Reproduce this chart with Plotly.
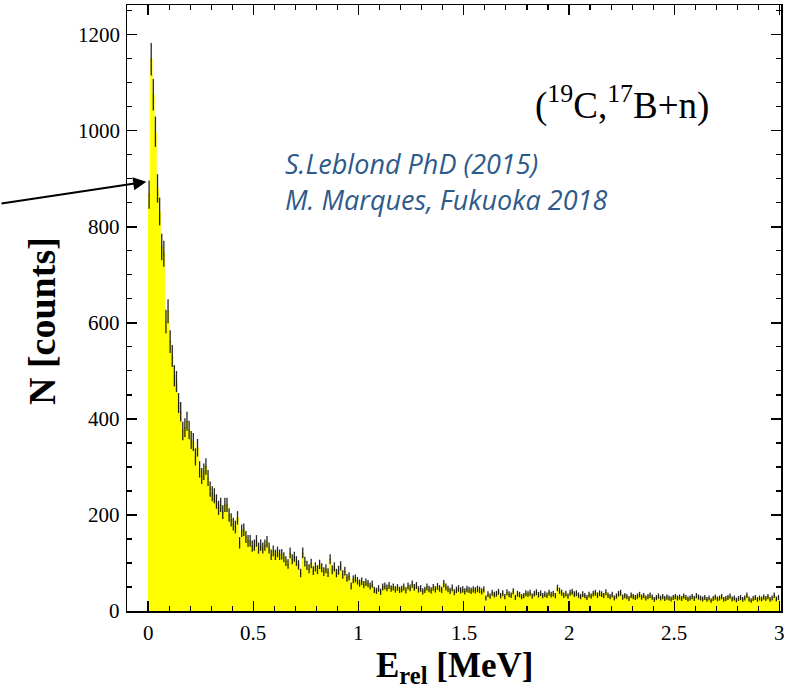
import numpy as np
import plotly.graph_objects as go

# Histogram of E_rel (MeV), 0.01 MeV bins from 0 to 3
bin_width = 0.01
bin_start = 0.0
counts = [
    867, 1149, 1075, 998, 880, 832, 758, 744, 603, 624,
    561, 531, 490, 478, 433, 415, 375, 382, 395, 377,
    356, 352, 321, 340, 295, 281, 290, 301, 277, 254,
    244, 240, 228, 215, 221, 206, 221, 221, 200, 190,
    181, 175, 194, 142, 167, 169, 154, 146, 146, 135,
    137, 146, 131, 137, 131, 137, 144, 131, 117, 125,
    117, 123, 117, 118, 112, 104, 98, 121, 108, 113,
    104, 96, 79, 121, 103, 95, 88, 99, 84, 92,
    86, 97, 90, 82, 88, 80, 108, 86, 92, 79,
    85, 94, 76, 83, 69, 72, 52, 66, 68, 63,
    58, 62, 55, 60, 57, 52, 56, 44, 42, 47,
    40, 50, 52, 48, 53, 47, 50, 45, 49, 44,
    46, 50, 43, 52, 48, 56, 49, 53, 45, 47,
    41, 44, 50, 46, 43, 49, 45, 51, 47, 44,
    57, 50, 46, 42, 48, 39, 44, 47, 43, 45,
    41, 46, 44, 42, 45, 43, 46, 44, 41, 45,
    27, 35, 31, 38, 34, 36, 40, 32, 37, 30,
    39, 35, 33, 41, 28, 36, 34, 30, 32, 37,
    35, 38, 31, 36, 39, 34, 37, 32, 35, 33,
    38, 34, 36, 32, 48, 42, 38, 33, 36, 31,
    38, 40, 35, 37, 33, 30, 35, 32, 28, 34,
    31, 36, 38, 33, 37, 35, 32, 39, 33, 30,
    34, 27, 31, 36, 38, 29, 32, 30, 26, 33,
    30, 28, 31, 34, 29, 32, 27, 30, 33, 29,
    24, 28, 31, 27, 30, 26, 29, 27, 25, 28,
    30, 27, 29, 26, 31, 28, 25, 27, 30, 26,
    32, 29, 27, 25, 28, 24, 27, 22, 26, 29,
    25, 27, 30, 24, 26, 28, 31, 25, 27, 23,
    26, 28, 24, 27, 33, 25, 22, 26, 28, 24,
    27, 25, 29, 26, 30, 24, 27, 33, 25, 28,
]

x_tick_vals = [0, 0.5, 1, 1.5, 2, 2.5, 3]
x_tick_text = ["0", "0.5", "1", "1.5", "2", "2.5", "3"]
y_tick_vals = [0, 200, 400, 600, 800, 1000, 1200]
y_tick_text = ["0", "200", "400", "600", "800", "1000", "1200"]
x_minor_step = 0.1
y_minor_step = 50

counts = np.array(counts, dtype=float)
n = len(counts)
edges = bin_start + bin_width * np.arange(n + 1)
centers = edges[:-1] + bin_width / 2
errors = np.sqrt(counts)  # Poisson errors

step_x = list(edges)
step_y = list(counts) + [counts[-1]]

fig = go.Figure()
fig.add_trace(go.Scatter(
    x=step_x, y=step_y, mode="lines", line=dict(shape="hv", color="#FFFF00", width=0.5),
    fill="tozeroy", fillcolor="#FFFF00", hoverinfo="skip", showlegend=False,
))
fig.add_trace(go.Scatter(
    x=centers, y=counts, mode="markers",
    marker=dict(size=1, color="rgba(0,0,0,0.6)"),
    error_y=dict(type="data", array=errors, visible=True, color="rgba(0,0,0,0.85)",
                 thickness=1.3, width=0),
    showlegend=False,
))

serif = "Liberation Serif"

fig.update_layout(
    width=789, height=691,
    margin=dict(l=127, r=8, t=5, b=80),
    paper_bgcolor="white", plot_bgcolor="white",
    showlegend=False,
    font=dict(family=serif, size=20, color="black"),
    xaxis=dict(
        range=[-0.1, 3.007], tickvals=x_tick_vals, showticklabels=False,
        ticks="inside", ticklen=10, tickwidth=1.3, tickcolor="black",
        minor=dict(ticks="inside", ticklen=5, dtick=x_minor_step, tickwidth=1.2, tickcolor="black"),
        showline=True, linecolor="black", linewidth=1.5, mirror="ticks",
        showgrid=False, zeroline=False, automargin=False,
    ),
    yaxis=dict(
        range=[0, 1262], tickvals=y_tick_vals, showticklabels=False,
        ticks="inside", ticklen=10, tickwidth=1.3, tickcolor="black",
        minor=dict(ticks="inside", ticklen=5, dtick=y_minor_step, tickwidth=1.2, tickcolor="black"),
        showline=True, linecolor="black", linewidth=1.5, mirror="ticks",
        showgrid=False, zeroline=False, automargin=False,
    ),
)

# tick labels (serif, as in the reference)
for v, t in zip(x_tick_vals, x_tick_text):
    fig.add_annotation(
        text=t, x=v, xref="x", y=0, yref="paper", yshift=-8, showarrow=False,
        xanchor="center", yanchor="top",
        font=dict(family=serif, size=21, color="black"),
    )
for v, t in zip(y_tick_vals, y_tick_text):
    fig.add_annotation(
        text=t, x=0, xref="paper", y=v, yref="y", xshift=-5, showarrow=False,
        xanchor="right", yanchor="middle",
        font=dict(family=serif, size=21, color="black"),
    )

fig.add_annotation(
    text="<b>E<sub>rel</sub> [MeV]</b>", xref="paper", yref="paper",
    x=(455 - 127) / 654, y=(611 - 667) / 606, showarrow=False,
    font=dict(family=serif, size=35, color="black"), xanchor="center", yanchor="middle",
)
fig.add_annotation(
    text="<b>N [counts]</b>", xref="paper", yref="paper",
    x=(42 - 127) / 654, y=(611 - 321) / 606, showarrow=False, textangle=-90,
    font=dict(family=serif, size=38, color="black"), xanchor="center", yanchor="middle",
)
fig.add_annotation(
    text="(<sup>19</sup>C,<sup>17</sup>B+n)", xref="paper", yref="paper",
    x=(622 - 127) / 654, y=(611 - 103) / 606, showarrow=False,
    font=dict(family=serif, size=37, color="black"), xanchor="center", yanchor="middle",
)
fig.add_annotation(
    text="<i>S.Leblond PhD (2015)</i>", xref="paper", yref="paper",
    x=(283 - 127) / 654, y=(611 - 163) / 606, showarrow=False,
    font=dict(family="Open Sans", size=27, color="#2E5A8A"),
    xanchor="left", yanchor="middle",
)
fig.add_annotation(
    text="<i>M. Marques, Fukuoka 2018</i>", xref="paper", yref="paper",
    x=(283 - 127) / 654, y=(611 - 200) / 606, showarrow=False,
    font=dict(family="Open Sans", size=27, color="#2E5A8A"),
    xanchor="left", yanchor="middle",
)
fig.add_annotation(
    x=-0.008, y=894, xref="x", yref="y", text="", showarrow=True,
    ax=-147, ay=22, arrowhead=2, arrowsize=1.2, arrowwidth=2.2, arrowcolor="black",
)

fig.write_html(
    "out.html",
    config={"displayModeBar": False, "staticPlot": True},
    post_script="document.body.style.margin='0';document.body.style.padding='0';",
)
